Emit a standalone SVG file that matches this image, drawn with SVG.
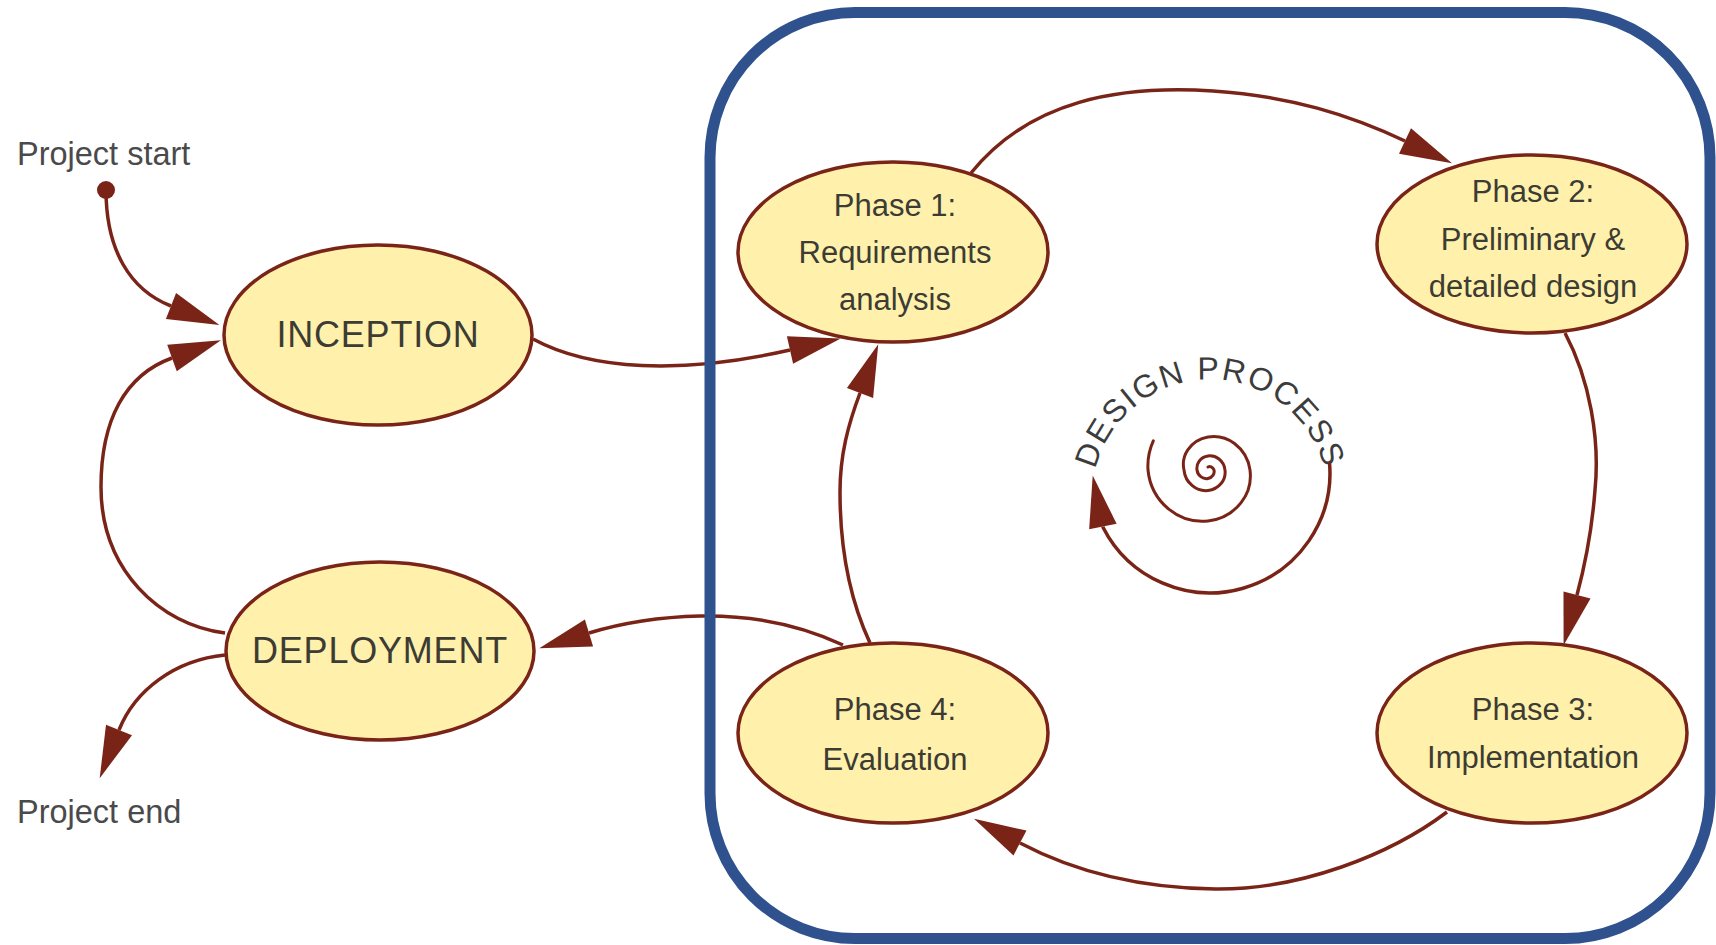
<svg xmlns="http://www.w3.org/2000/svg" width="1716" height="945" viewBox="0 0 1716 945">
<style>
.node ellipse{fill:#FFF1AB;stroke:#7A2418;stroke-width:3.5}
.lbl{font-family:"Liberation Sans",Arial,sans-serif;fill:#3c3c34;text-anchor:middle}
.big{font-size:36px;letter-spacing:0.8px}
.ph{font-size:31px}
.side{font-family:"Liberation Sans",Arial,sans-serif;font-size:32.5px;fill:#4a4a4a}
.conn path{fill:none;stroke:#7A2418;stroke-width:3.5}
</style>
<defs>
<marker id="ah" markerUnits="userSpaceOnUse" markerWidth="54" markerHeight="30" refX="0" refY="14" orient="auto" overflow="visible">
<path d="M0,0 L52,14 L0,28 z" fill="#7A2418"/>
</marker>
<path id="tp" d="M1093.8,477 A118,118 0 0 1 1326.2,477"/>
</defs>
<rect width="1716" height="945" fill="#ffffff"/>

<g id="connectors" class="conn">
<path d="M106,190 C106,250 130,290 171,306" marker-end="url(#ah)"/>
<path d="M225,633 C160,625 101,570 101,487 C101,420 125,375 172,358" marker-end="url(#ah)"/>
<path d="M225,655 C175,660 135,690 119,730" marker-end="url(#ah)"/>
<path d="M533,339 C590,370 680,375 790,350" marker-end="url(#ah)"/>
<path d="M971,173 C1030,100 1120,85 1213,91 C1290,96 1350,115 1405,141" marker-end="url(#ah)"/>
<path d="M1565,333 C1590,380 1600,440 1595,490 C1592,530 1585,565 1577,595" marker-end="url(#ah)"/>
<path d="M1447,812 C1390,855 1300,890 1215,889 C1140,888 1075,872 1020,843" marker-end="url(#ah)"/>
<path d="M870,643 C850,600 840,550 840,492 C840,455 848,425 860,393" marker-end="url(#ah)"/>
<path d="M843,645 C800,625 750,615 700,616 C660,617 625,622 589,633" marker-end="url(#ah)"/>
</g>

<circle id="start-dot" cx="106" cy="190" r="9" fill="#7A2418"/>
<text id="project-start" class="side" x="17" y="165">Project start</text>
<text id="project-end" class="side" x="17" y="823">Project end</text>

<g id="inception" class="node">
<ellipse cx="378" cy="335" rx="154" ry="90"/>
<text class="lbl big" x="378" y="347">INCEPTION</text>
</g>
<g id="deployment" class="node">
<ellipse cx="380" cy="651" rx="154" ry="89"/>
<text class="lbl big" x="380" y="663">DEPLOYMENT</text>
</g>
<g id="phase1" class="node">
<ellipse cx="893" cy="252" rx="155" ry="90"/>
<text class="lbl ph" x="895" y="216">Phase 1:</text>
<text class="lbl ph" x="895" y="263">Requirements</text>
<text class="lbl ph" x="895" y="310">analysis</text>
</g>
<g id="phase2" class="node">
<ellipse cx="1532" cy="244" rx="155" ry="89"/>
<text class="lbl ph" x="1533" y="202">Phase 2:</text>
<text class="lbl ph" x="1533" y="250">Preliminary &amp;</text>
<text class="lbl ph" x="1533" y="297">detailed design</text>
</g>
<g id="phase3" class="node">
<ellipse cx="1532" cy="733" rx="155" ry="90"/>
<text class="lbl ph" x="1533" y="720">Phase 3:</text>
<text class="lbl ph" x="1533" y="768">Implementation</text>
</g>
<g id="phase4" class="node">
<ellipse cx="893" cy="733" rx="155" ry="90"/>
<text class="lbl ph" x="895" y="720">Phase 4:</text>
<text class="lbl ph" x="895" y="770">Evaluation</text>
</g>

<g id="design-process">
<text font-family="'Liberation Sans',Arial,sans-serif" font-size="32" letter-spacing="1.8" fill="#3c3c3c" text-anchor="middle"><textPath href="#tp" startOffset="50%">DESIGN PROCESS</textPath></text>
<path fill="none" stroke="#7A2418" stroke-width="3" stroke-linecap="round" d="M1153.3,440.9 A61,61 0 0 0 1148,470 A58,58 0 0 0 1168.8,509.2 A53,53 0 0 0 1208,521 A49,49 0 0 0 1240.9,502.9 A44,44 0 0 0 1250,470 A40,40 0 0 0 1234.5,443.5 A35,35 0 0 0 1208,437 A31,31 0 0 0 1187.8,449.8 A26,26 0 0 0 1184,470 A23,23 0 0 0 1192.3,485.7 A21,21 0 0 0 1208,490.5 A20,20 0 0 0 1221.3,483.3 A18,18 0 0 0 1225,470 A16,16 0 0 0 1219,459 A15,15 0 0 0 1208,456 A13,13 0 0 0 1199.2,461.2 A12,12 0 0 0 1197,470 A10,10 0 0 0 1201.1,476.9 A9,9 0 0 0 1208,478.5 A8,8 0 0 0 1213.1,475.1 A6.5,6.5 0 0 0 1214,470 A5,5 0 0 0 1211.2,466.8 A4,4 0 0 0 1208,467"/>
<path fill="none" stroke="#7A2418" stroke-width="3.5" d="M1329.5,462.5 A120,120 0 0 1 1103.1,527.5 l-0.2,-1" marker-end="url(#ah)"/>
</g>

<rect id="design-frame" x="710" y="12.5" width="1000" height="926" rx="145" ry="145" fill="none" stroke="#2F528F" stroke-width="11"/>
</svg>
